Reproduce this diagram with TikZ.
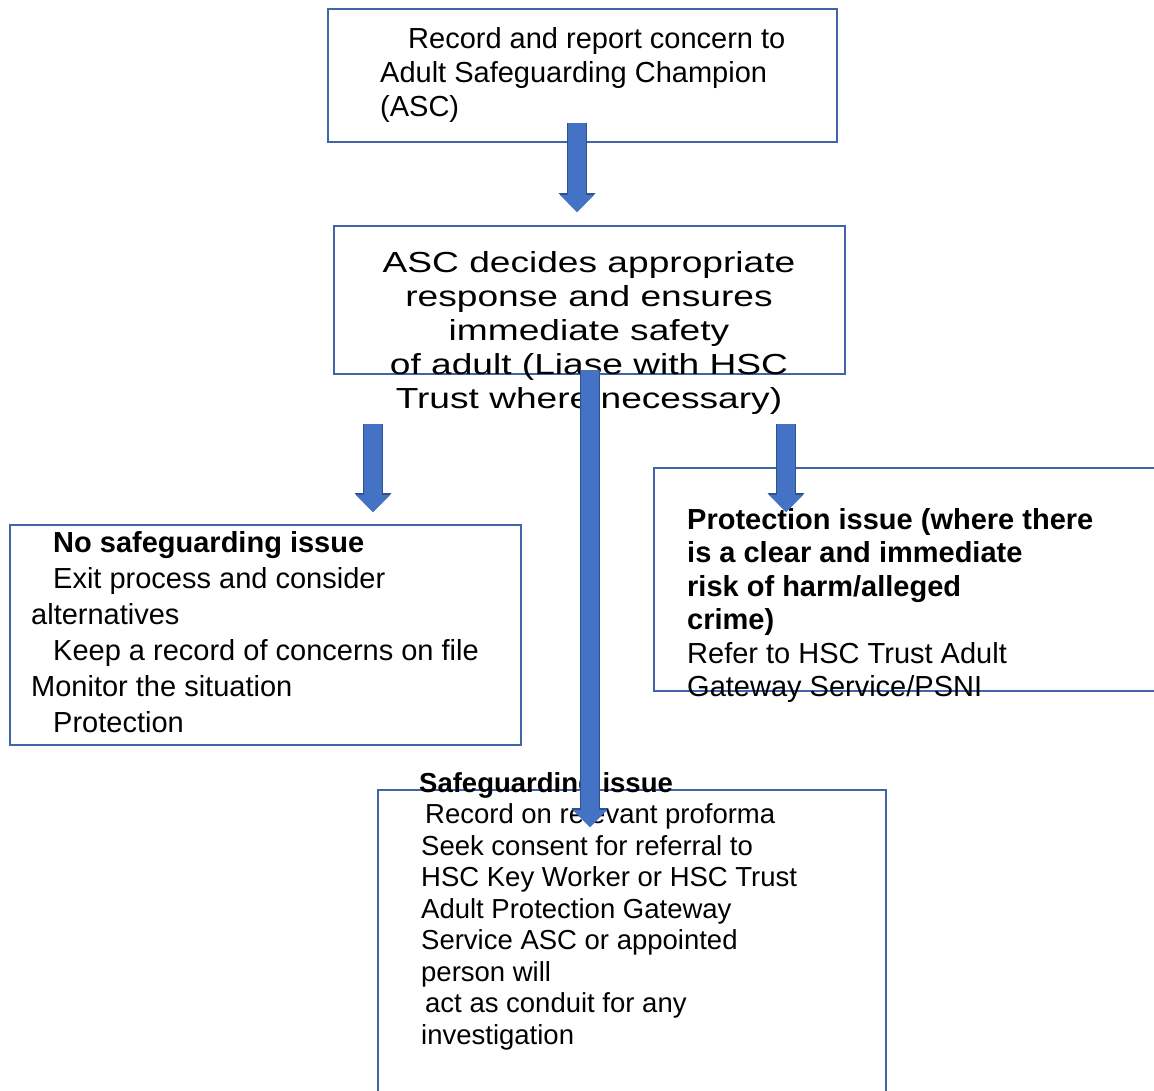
\documentclass[tikz,border=0pt]{standalone}
\usepackage{fontspec}
\setmainfont{Liberation Sans}
\newfontfamily\widefont[FakeStretch=1.28]{Liberation Sans}
\usetikzlibrary{arrows.meta}

\definecolor{boxblue}{RGB}{66,101,170}
\definecolor{arrowfill}{RGB}{68,114,196}
\definecolor{arrowedge}{RGB}{47,82,143}

\tikzset{
  panel/.style={draw=boxblue,line width=1.5pt,inner sep=0,anchor=north west},
  flowtext/.style={inner sep=0,anchor=north west,align=left,
    font=\fontsize{29}{34}\selectfont},
  blockarrow/.style={draw=arrowfill,line width=18pt,
    -{Triangle[width=34pt,length=17pt,line width=0pt]},
    preaction={draw=arrowedge,line width=20.5pt,
      -{Triangle[width=37pt,length=19pt,line width=0pt]}}}
}

\begin{document}
\begin{tikzpicture}[x=1pt,y=-1pt]
\useasboundingbox (0,0) rectangle (1154,1090);
\clip (0,0) rectangle (1154,1090);

% boxes
\node[panel,minimum width=509pt,minimum height=133pt] (report) at (327,8) {};
\node[panel,minimum width=511pt,minimum height=148pt] (decide) at (333,225) {};
\node[panel,minimum width=511pt,minimum height=220pt] (nosafe) at (9,524) {};
\node[panel,minimum width=530pt,minimum height=223pt] (protect) at (653,467) {};
\node[panel,minimum width=508pt,minimum height=330pt] (safeguard) at (377,789) {};

% texts
\node[flowtext] (reporttxt) at (380,27)
  {\hspace*{28pt}Record and report concern to\\
   Adult Safeguarding Champion\\
   (ASC)};
\node[flowtext,anchor=north,align=center,
  font=\widefont\fontsize{29}{34}\selectfont] (decidetxt) at (589,251)
  {ASC decides appropriate\\
   response and ensures\\
   immediate safety\\
   of adult (Liase with HSC\\
   Trust where necessary)};
\node[flowtext,font=\fontsize{29}{36}\selectfont] (nosafetxt) at (31,531)
  {\hspace*{22pt}\textbf{No safeguarding issue}\\
   \hspace*{22pt}Exit process and consider\\
   alternatives\\
   \hspace*{22pt}Keep a record of concerns on file\\
   Monitor the situation\\
   \hspace*{22pt}Protection};
\node[flowtext,font=\fontsize{29}{33.5}\selectfont] (protecttxt) at (687,508)
  {\textbf{Protection issue (where there}\\
   \textbf{is a clear and immediate}\\
   \textbf{risk of harm/alleged}\\
   \textbf{crime)}\\
   Refer to HSC Trust Adult\\
   Gateway Service/PSNI};
\node[flowtext,font=\fontsize{27.5}{31.5}\selectfont] (safeguardtxt) at (419,772)
  {\textbf{Safeguarding issue}\\
   \hspace*{6pt}Record on relevant proforma\\
   \hspace*{2pt}Seek consent for referral to\\
   \hspace*{2pt}HSC Key Worker or HSC Trust\\
   \hspace*{2pt}Adult Protection Gateway\\
   \hspace*{2pt}Service ASC or appointed\\
   \hspace*{2pt}person will\\
   \hspace*{6pt}act as conduit for any\\
   \hspace*{2pt}investigation};

% arrows
\coordinate (a1s) at (577,123);
\coordinate (a1e) at (577,212);
\coordinate (a2s) at (590,370);
\coordinate (a2e) at (590,827);
\coordinate (a3s) at (373,424);
\coordinate (a3e) at (373,512);
\coordinate (a4s) at (786,424);
\coordinate (a4e) at (786,512);

\draw[blockarrow] (a1s) -- (a1e);
\draw[blockarrow] (a2s) -- (a2e);
\draw[blockarrow] (a3s) -- (a3e);
\draw[blockarrow] (a4s) -- (a4e);
\end{tikzpicture}
\end{document}
